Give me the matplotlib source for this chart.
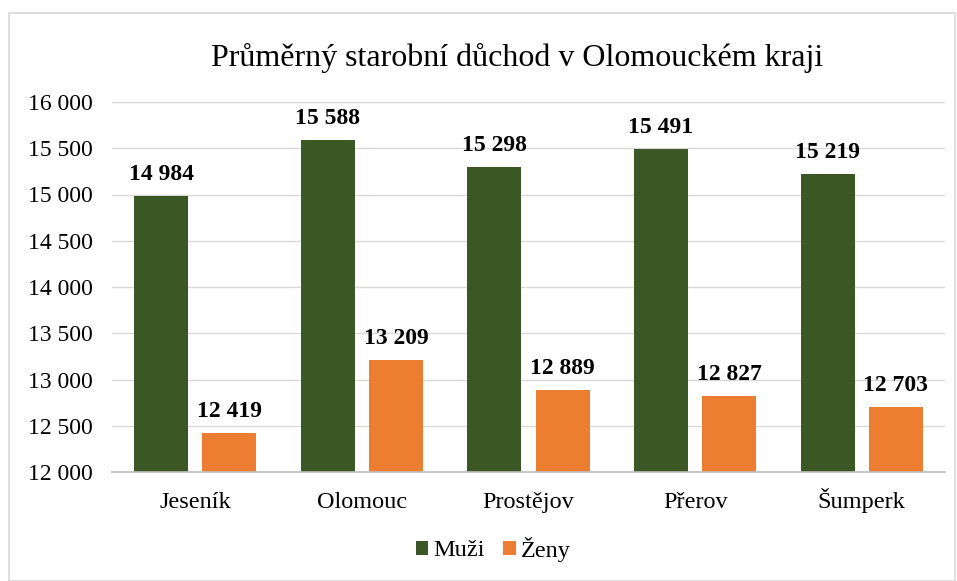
import matplotlib
matplotlib.use("Agg")
import matplotlib.pyplot as plt
from matplotlib.patches import Rectangle
import numpy as np

categories = ["Jeseník", "Olomouc", "Prostějov", "Přerov", "Šumperk"]
muzi = [14984, 15588, 15298, 15491, 15219]
zeny = [12419, 13209, 12889, 12827, 12703]
yticks = [12000, 12500, 13000, 13500, 14000, 14500, 15000, 15500, 16000]

green = "#3a5724"
orange = "#ed7d31"
serif = ["Liberation Serif", "DejaVu Serif"]

def fmt(v):
    return f"{v:,}".replace(",", " ")

W, H = 957, 581
fig = plt.figure(figsize=(W/100, H/100), dpi=100)
ax = fig.add_axes([112/W, 1-472/H, (945-112)/W, (472-102)/H])

x = np.arange(len(categories))
bw = 0.325
off = (bw + 14/166) / 2
b1 = ax.bar(x - off, muzi, bw, color=green, label="Muži", zorder=3)
b2 = ax.bar(x + off, zeny, bw, color=orange, label="Ženy", zorder=3)

for bars, vals in ((b1, muzi), (b2, zeny)):
    for r, v in zip(bars, vals):
        ax.annotate(fmt(v), (r.get_x() + r.get_width()/2, v), xytext=(0, 11.5),
                    textcoords="offset points", ha="center", va="baseline",
                    fontsize=17, fontweight="bold", family=serif)

ax.set_ylim(12000, 16000)
ax.set_xlim(-0.5, len(categories) - 0.5)
ax.set_yticks(yticks)
ax.set_yticklabels([fmt(t) for t in yticks], family=serif, fontsize=17)
ax.set_xticks(x)
ax.set_xticklabels(categories, family=serif, fontsize=17.5, va="baseline")
ax.tick_params(axis="both", length=0)
ax.tick_params(axis="y", pad=14)
ax.tick_params(axis="x", pad=26)
ax.grid(axis="y", color="#d9d9d9", linewidth=1, zorder=0)
for s in ("top", "right", "left"):
    ax.spines[s].set_visible(False)
ax.spines["bottom"].set_color("#bfbfbf")
ax.spines["bottom"].set_linewidth(1.2)
ax.spines["bottom"].set_zorder(4)

fig.text(517/W, 1-66/H, "Průměrný starobní důchod v Olomouckém kraji",
         ha="center", va="baseline", fontsize=23, family=serif)

leg = fig.legend(handles=[b1, b2], labels=["Muži", "Ženy"], loc="center",
                 bbox_to_anchor=(493/W, 1-549/H), ncol=2, frameon=False,
                 prop={"family": serif, "size": 17.5}, handlelength=0.53,
                 handleheight=0.53, handletextpad=0.2, columnspacing=0.74,
                 borderpad=0, borderaxespad=0)

fig.patches.append(Rectangle((9/W, 0.0), 946/W, 1-13/H, transform=fig.transFigure,
                             fill=False, edgecolor="#d9d9d9", linewidth=1.2))

fig.savefig("out.png", dpi=100)
